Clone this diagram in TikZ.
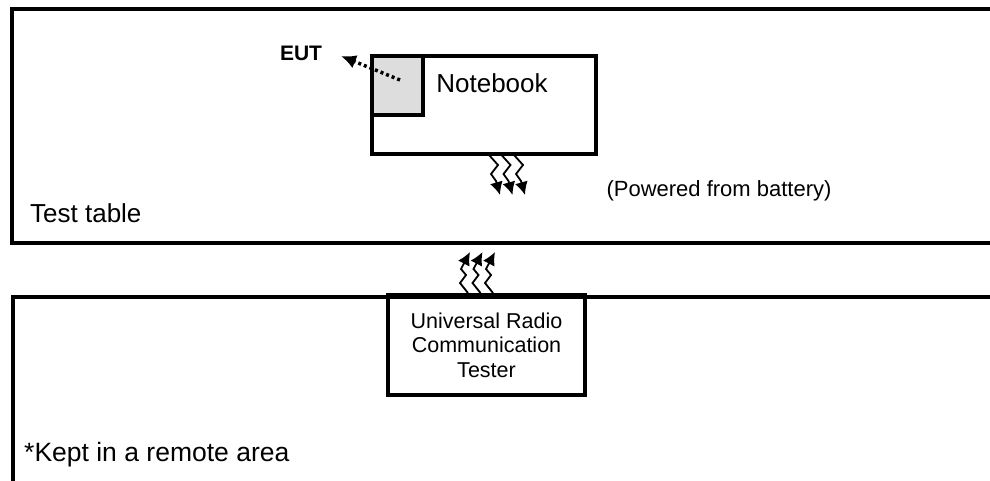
\documentclass[tikz,border=0pt]{standalone}
\usepackage{fontspec}
\setmainfont{Liberation Sans}
\usetikzlibrary{arrows.meta}
\begin{document}
\begin{tikzpicture}[x=1pt,y=-1pt,
  box/.style={draw, line width=4pt, rectangle, inner sep=0pt},
  lbl/.style={inner sep=0pt},
  bolt/.style={line width=1.8pt, -{Latex[length=13pt,width=13pt]}, line join=miter}]
\useasboundingbox (0,0) rectangle (990,480);
\clip (0,0) rectangle (990,480);
% outer areas
\node[box, anchor=north west, minimum width=1020pt, minimum height=234pt] (table) at (9.5,6.5) {};
\node[box, anchor=north west, minimum width=1020pt, minimum height=260pt] (remote) at (10.5,294.5) {};
% notebook
\node[box, minimum width=224pt, minimum height=98pt] (nb) at (484,105) {};
\node[box, fill={rgb,255:red,221;green,221;blue,221}, minimum width=51pt, minimum height=59pt] (eut) at (397.5,85.5) {};
\node[lbl, font=\fontsize{26}{30}\selectfont] (nbt) at (492,83) {Notebook};
\node[lbl, font=\fontsize{21}{24}\selectfont\bfseries] (eutl) at (301,53) {EUT};
\coordinate (eutin) at (400,80);
\coordinate (euttip) at (341,56);
\draw[line width=3.5pt, dash pattern=on 3pt off 3pt, -{Latex[length=15pt,width=14pt]}] (eutin) -- (euttip);
% tester
\node[box, minimum width=197pt, minimum height=100pt, align=center, font=\fontsize{21.5}{24.5}\selectfont] (urct) at (486.5,345) {Universal Radio\\Communication\\Tester};
% labels
\node[lbl, anchor=west, font=\fontsize{26}{30}\selectfont] (tt) at (30,213) {Test table};
\node[lbl, anchor=west, font=\fontsize{26.5}{30}\selectfont] (kr) at (24,455) {*Kept in a remote area};
\node[lbl, font=\fontsize{22}{26}\selectfont] (pw) at (719,191) {(Powered from battery)};
% radio bolts from notebook
\foreach \i in {0,1,2}{
  \pgfmathsetmacro{\xa}{489+12.5*\i}
  \draw[bolt] (\xa,155) -- (\xa+9,165) -- (\xa+2,174) -- (\xa+7,181) -- (\xa+11,195);
}
% radio bolts from tester
\foreach \i in {0,1,2}{
  \pgfmathsetmacro{\xb}{468+12.5*\i}
  \draw[bolt] (\xb,293) -- (\xb-8,283) -- (\xb-2,275) -- (\xb-7,269) -- (\xb+2,252);
}
\end{tikzpicture}
\end{document}
